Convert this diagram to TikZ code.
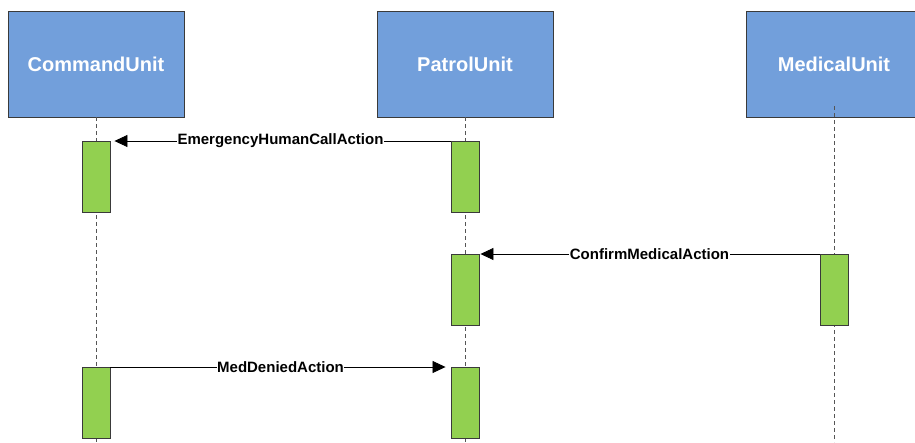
\documentclass[tikz,border=0pt]{standalone}
\usepackage{fontspec}
\setmainfont{Liberation Sans}
\usetikzlibrary{arrows.meta}
\definecolor{headblue}{HTML}{729FDB}
\definecolor{actgreen}{HTML}{92D050}
\definecolor{edgegray}{HTML}{3A3A3A}
\definecolor{lifegray}{HTML}{555555}
\tikzset{
  headbox/.style={draw=edgegray, line width=0.9pt, fill=headblue, minimum width=176pt, minimum height=106pt, inner sep=0pt, text=white, font=\fontsize{20}{24}\selectfont\bfseries},
  actbox/.style={draw=edgegray, line width=0.9pt, fill=actgreen, minimum width=28pt, minimum height=71pt, inner sep=0pt, anchor=north},
  lifeline/.style={draw=lifegray, line width=0.8pt, dash pattern=on 4pt off 3pt},
  msg/.style={draw=black, line width=0.8pt, -{Triangle[length=13pt,width=12pt]}},
  msglabel/.style={fill=white, inner sep=0.5pt, font=\fontsize{15}{18}\selectfont\bfseries}
}
\begin{document}
\begin{tikzpicture}[x=1pt,y=-1pt]
\useasboundingbox (0,0) rectangle (915,442);
% lifelines
\coordinate (cbot) at (96,442);
\coordinate (pbot) at (465,442);
\coordinate (mbot) at (834,442);
\coordinate (mtop) at (834,106);
\node[headbox] (cu) at (96,64) {CommandUnit};
\node[headbox] (pu) at (465,64) {PatrolUnit};
\node[headbox] (mu) at (834,64) {MedicalUnit};
\draw[lifeline] (cu.south) -- (cbot);
\draw[lifeline] (pu.south) -- (pbot);
\draw[lifeline] (mtop) -- (mbot);
% activations
\node[actbox] (ca1) at (96,141) {};
\node[actbox] (pa1) at (465,141) {};
\node[actbox] (pa2) at (465,254) {};
\node[actbox] (ma2) at (834,254) {};
\node[actbox] (ca3) at (96,367) {};
\node[actbox] (pa3) at (465,367) {};
% messages
\draw[msg, shorten >=4pt] (pa1.north west) -- node[msglabel] {EmergencyHumanCallAction} (ca1.north east);
\draw[msg, shorten >=1pt] (ma2.north west) -- node[msglabel] {ConfirmMedicalAction} (pa2.north east);
\draw[msg, shorten >=5pt] (ca3.north east) -- node[msglabel] {MedDeniedAction} (pa3.north west);
\end{tikzpicture}
\end{document}
